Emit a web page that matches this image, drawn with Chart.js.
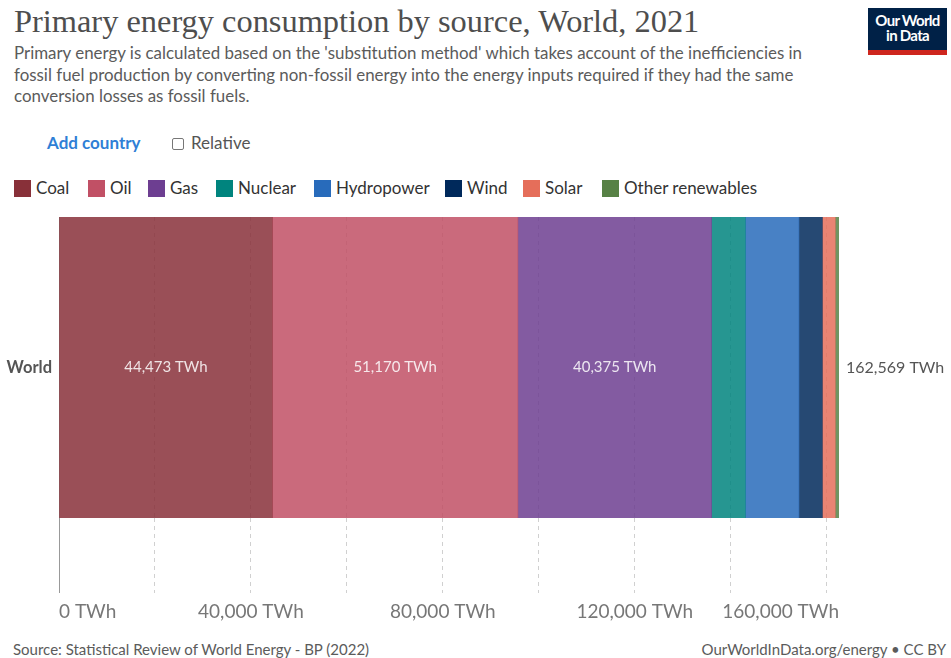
<!DOCTYPE html>
<html>
<head>
<meta charset="utf-8">
<script src="https://cdn.jsdelivr.net/npm/chart.js@4.4.0/dist/chart.umd.min.js"></script>
<style>
  body { margin: 0; width: 951px; height: 658px; background: #fff; font-family: Lato, "Noto Sans", sans-serif; position: relative; overflow: hidden; }
  #title { position: absolute; left: 14px; top: 3px; font-family: "Liberation Serif", serif; font-size: 32.4px; color: #4e4e4e; white-space: nowrap; }
  #subtitle { position: absolute; left: 14px; top: 42px; font-size: 16.9px; line-height: 21.5px; color: #5b5b5b; white-space: nowrap; }
  #logo { position: absolute; left: 868px; top: 8px; width: 79px; height: 47px; background: #002147; border-bottom: 5px solid #ce261e; box-sizing: border-box; color: #fff; font-weight: bold; font-size: 15px; line-height: 15px; text-align: center; letter-spacing: -0.7px; padding-top: 5px; }
  #controls { position: absolute; left: 47px; top: 132px; font-size: 17px; white-space: nowrap; }
  #controls .add { color: #2f7fd6; font-weight: bold; }
  #controls .rel { position: absolute; left: 125px; top: 0; color: #555; }
  #controls .box { display: inline-block; width: 10px; height: 10px; border: 1.5px solid #777; border-radius: 2px; margin-right: 7px; vertical-align: -1px; }
  #legend { position: absolute; left: 14px; top: 177px; font-size: 17px; color: #333; white-space: nowrap; }
  #legend span.item { position: absolute; top: 0; }
  #legend span.sw { display: inline-block; width: 17px; height: 17px; vertical-align: -3px; margin-right: 5px; }
  #wrap { position: absolute; left: 0; top: 200px; width: 951px; height: 440px; }
  #source { position: absolute; left: 13px; top: 640px; font-size: 15px; color: #5b5b5b; }
  #credit { position: absolute; right: 5px; top: 640px; font-size: 15px; color: #5b5b5b; }
</style>
</head>
<body>
<div id="title">Primary energy consumption by source, World, 2021</div>
<div id="subtitle">Primary energy is calculated based on the 'substitution method' which takes account of the inefficiencies in<br>fossil fuel production by converting non-fossil energy into the energy inputs required if they had the same<br>conversion losses as fossil fuels.</div>
<div id="logo">Our World<br>in Data</div>
<div id="controls"><span class="add">Add country</span><span class="rel"><span class="box"></span>Relative</span></div>
<div id="legend"></div>
<div id="wrap"><canvas id="chart"></canvas></div>
<div id="source">Source: Statistical Review of World Energy - BP (2022)</div>
<div id="credit">OurWorldInData.org/energy • CC BY</div>

<script>
const entities = ["World"];
const sources = ["Coal", "Oil", "Gas", "Nuclear", "Hydropower", "Wind", "Solar", "Other renewables"];
const consumption = [44473, 51170, 40375, 7031, 11183, 4872, 2702, 763]; // TWh
const colors = ["#883039", "#c15065", "#6d3e91", "#00847e", "#286bbb", "#00295b", "#e56e5a", "#578145"];
const gridValues = [0, 20000, 40000, 60000, 80000, 100000, 120000, 140000, 160000];
const tickLabels = [0, 40000, 80000, 120000, 160000];
const legendX = [0, 74, 134, 202, 300, 431, 509, 588];

const total = consumption.reduce((a, b) => a + b, 0);
const fmt = v => v.toLocaleString("en-US") + " TWh";
const isZero = c => c.tick && c.tick.value === 0;

function alpha(hex, a) {
  const n = parseInt(hex.slice(1), 16);
  return `rgba(${n >> 16},${(n >> 8) & 255},${n & 255},${a})`;
}

// legend row
const legendEl = document.getElementById("legend");
sources.forEach((s, i) => {
  legendEl.insertAdjacentHTML("beforeend",
    `<span class="item" style="left:${legendX[i]}px"><span class="sw" style="background:${colors[i]}"></span>${s}</span>`);
});

// segment values, total at the end, and the x tick labels
const labelsPlugin = {
  id: "barLabels",
  afterDatasetsDraw(chart) {
    const ctx = chart.ctx;
    ctx.save();
    ctx.textBaseline = "middle";
    let end = 0, y = 0;
    chart.data.datasets.forEach((ds, i) => {
      const bar = chart.getDatasetMeta(i).data[0];
      const w = bar.x - bar.base;
      const text = fmt(ds.data[0]);
      end = Math.max(end, bar.x);
      y = bar.y;
      ctx.font = "15px Lato";
      if (ctx.measureText(text).width + 20 < w) {
        ctx.fillStyle = "rgba(255,255,255,0.85)";
        ctx.textAlign = "center";
        ctx.fillText(text, (bar.x + bar.base) / 2, bar.y);
      }
    });
    ctx.font = "16px Lato";
    ctx.fillStyle = "#555";
    ctx.textAlign = "left";
    ctx.fillText(fmt(total), end + 7, y);

    const xs = chart.scales.x;
    ctx.font = "19px Lato";
    ctx.fillStyle = "#777";
    const ty = chart.chartArea.bottom + 94;
    tickLabels.forEach((v, i) => {
      const px = xs.getPixelForValue(v);
      const t = fmt(v);
      const tw = ctx.measureText(t).width;
      let x = px - tw / 2;
      if (i === 0) x = px;
      if (x + tw > chart.chartArea.right) x = chart.chartArea.right - tw;
      ctx.fillText(t, x, ty);
    });
    ctx.restore();
  }
};

new Chart(document.getElementById("chart"), {
  type: "bar",
  data: {
    labels: entities,
    datasets: sources.map((s, i) => ({
      label: s,
      data: [consumption[i]],
      backgroundColor: alpha(colors[i], 0.85),
      borderWidth: 0,
      categoryPercentage: 1,
      barPercentage: 1
    }))
  },
  options: {
    indexAxis: "y",
    responsive: true,
    maintainAspectRatio: false,
    animation: false,
    layout: { padding: { top: 17, right: 112, bottom: 47, left: 0 } },
    plugins: { legend: { display: false }, tooltip: { enabled: false } },
    scales: {
      x: {
        stacked: true,
        min: 0,
        max: total,
        afterFit: s => { s.height = 75; },
        afterBuildTicks: s => { s.ticks = gridValues.map(v => ({ value: v })); },
        ticks: { display: false },
        border: { display: false, dash: c => (isZero(c) ? [] : [4, 4]) },
        grid: {
          color: c => (isZero(c) ? "#999" : "#d0d0d0"),
          tickColor: c => (isZero(c) ? "#999" : "#d0d0d0"),
          tickBorderDash: c => (isZero(c) ? [] : [4, 4]),
          tickLength: 75,
          lineWidth: 1
        }
      },
      y: {
        stacked: true,
        afterFit: s => { s.width = 59; },
        border: { display: false },
        grid: { display: false, tickLength: 0 },
        ticks: { padding: 7, color: "#555", font: { family: "Lato", size: 16.5, weight: "bold" } }
      }
    }
  },
  plugins: [labelsPlugin]
});
</script>
</body>
</html>
